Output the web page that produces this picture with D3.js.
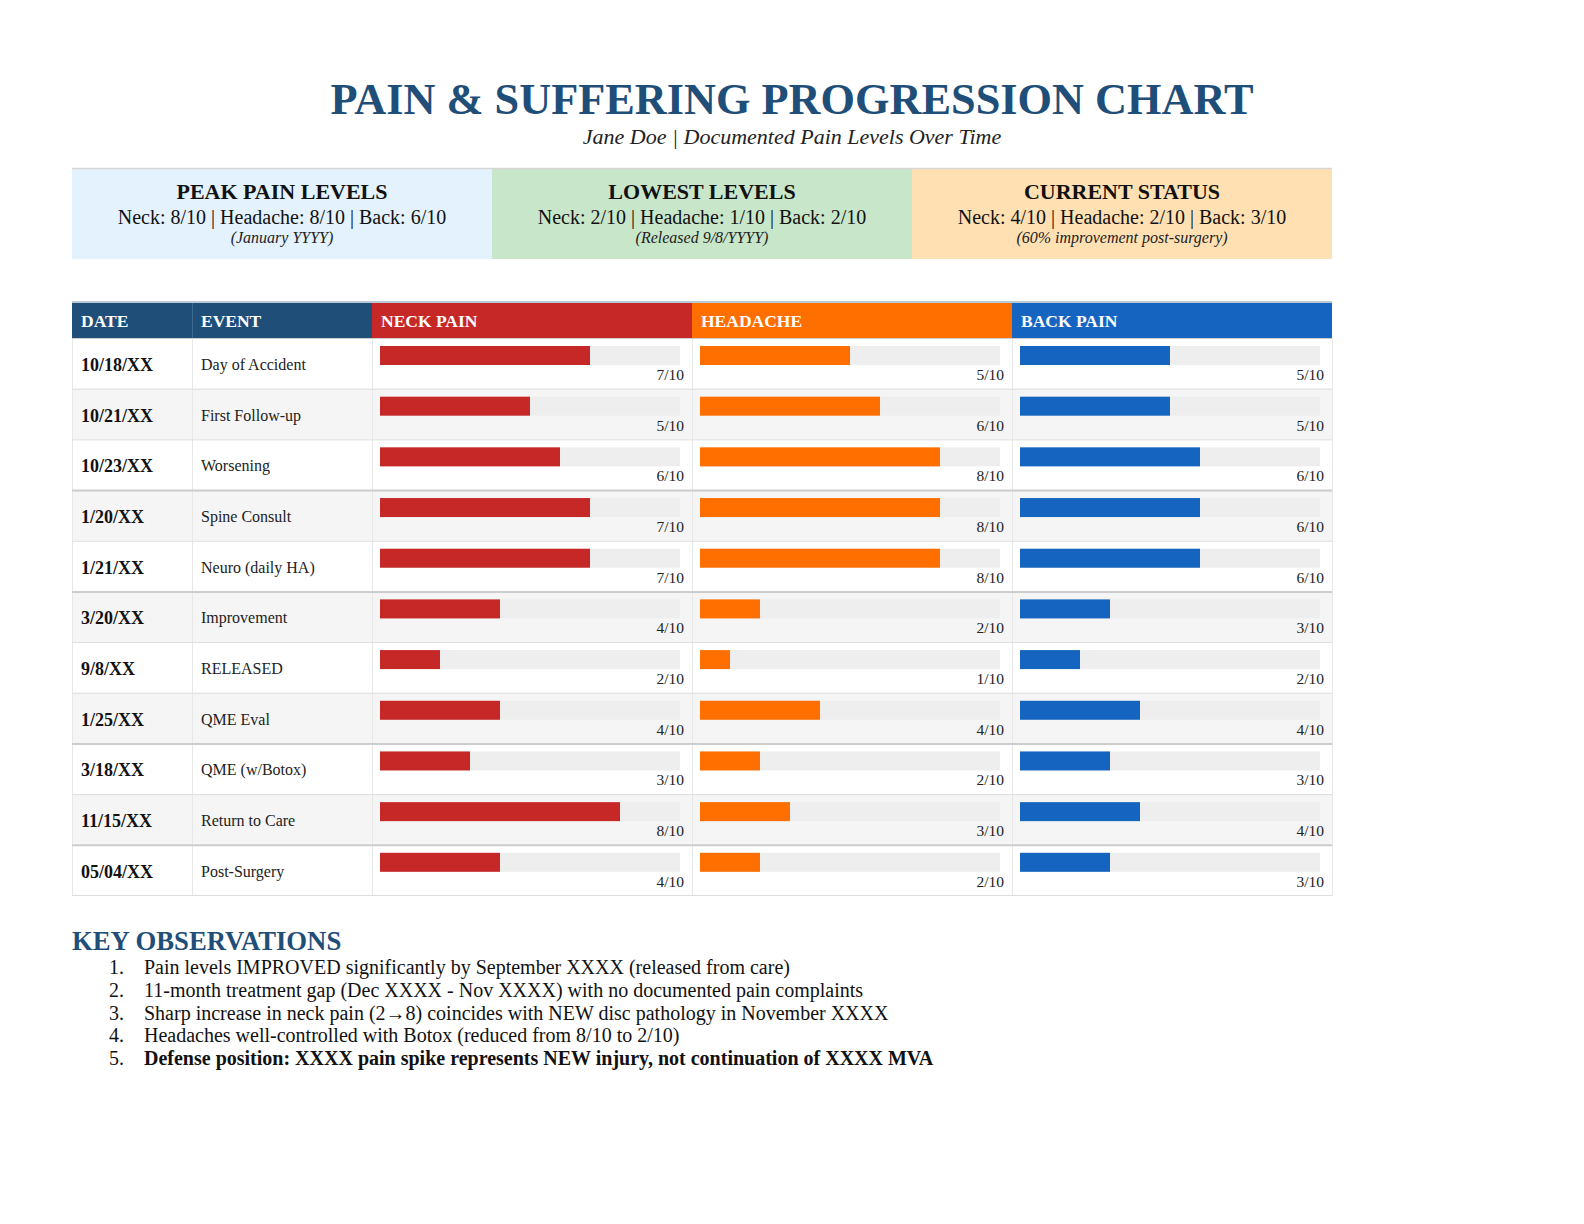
<!DOCTYPE html>
<html><head><meta charset="utf-8">
<script src="https://cdn.jsdelivr.net/npm/d3@7"></script>
<style>
html,body{margin:0;padding:0;background:#fff;}
svg{display:block;font-family:"Liberation Serif","Times New Roman",serif;}
</style></head>
<body>
<svg id="chart" width="1584" height="1224"></svg>
<script>
// ---- Data ----
const dates = ["10/18/XX","10/21/XX","10/23/XX","1/20/XX","1/21/XX","3/20/XX","9/8/XX","1/25/XX","3/18/XX","11/15/XX","05/04/XX"];
const events = ["Day of Accident","First Follow-up","Worsening","Spine Consult","Neuro (daily HA)","Improvement","RELEASED","QME Eval","QME (w/Botox)","Return to Care","Post-Surgery"];
const neckPain = [7,5,6,7,7,4,2,4,3,8,4];
const headache = [5,6,8,8,8,2,1,4,2,3,2];
const backPain = [5,5,6,6,6,3,2,4,3,4,3];
const columnHeaders = ["DATE","EVENT","NECK PAIN","HEADACHE","BACK PAIN"];
const maxScore = 10;
const summaryTitles = ["PEAK PAIN LEVELS","LOWEST LEVELS","CURRENT STATUS"];
const summaryLines = ["Neck: 8/10 | Headache: 8/10 | Back: 6/10","Neck: 2/10 | Headache: 1/10 | Back: 2/10","Neck: 4/10 | Headache: 2/10 | Back: 3/10"];
const summaryNotes = ["(January YYYY)","(Released 9/8/YYYY)","(60% improvement post-surgery)"];
const observations = [
  "Pain levels IMPROVED significantly by September XXXX (released from care)",
  "11-month treatment gap (Dec XXXX - Nov XXXX) with no documented pain complaints",
  "Sharp increase in neck pain (2\u21928) coincides with NEW disc pathology in November XXXX",
  "Headaches well-controlled with Botox (reduced from 8/10 to 2/10)",
  "Defense position: XXXX pain spike represents NEW injury, not continuation of XXXX MVA"
];

// ---- Layout ----
const svg = d3.select("#chart");
const navy = "#1F4E79";
const seriesColors = ["#C62828","#FF6F00","#1565C0"];
const headerColors = [navy, navy, ...seriesColors];
const boxColors = ["#E3F2FD","#C8E6C9","#FFE0B2"];
const tableLeft = 72, tableRight = 1332;
const colEdges = [72,192,372,692,1012,1332];

// Title
svg.append("text").attr("x",792).attr("y",114).attr("text-anchor","middle")
  .attr("font-size",44.3).attr("font-weight","bold").attr("fill",navy)
  .text("PAIN & SUFFERING PROGRESSION CHART");
svg.append("text").attr("x",792).attr("y",143.5).attr("text-anchor","middle")
  .attr("font-size",22).attr("font-style","italic").attr("fill","#222")
  .text("Jane Doe | Documented Pain Levels Over Time");

// Summary boxes
const boxX = d3.scaleBand().domain(d3.range(3)).range([tableLeft, tableRight]);
const boxTop = 168, boxH = 91;
const boxes = svg.append("g").selectAll("g").data(d3.range(3)).join("g")
  .attr("transform", i => `translate(${boxX(i)},${boxTop})`);
boxes.append("rect").attr("width",boxX.bandwidth()).attr("height",boxH).attr("fill",i=>boxColors[i]);
boxes.append("text").attr("x",boxX.bandwidth()/2).attr("y",31).attr("text-anchor","middle")
  .attr("font-size",22).attr("font-weight","bold").attr("fill","#111").text(i=>summaryTitles[i]);
boxes.append("text").attr("x",boxX.bandwidth()/2).attr("y",56).attr("text-anchor","middle")
  .attr("font-size",20).attr("fill","#111").text(i=>summaryLines[i]);
boxes.append("text").attr("x",boxX.bandwidth()/2).attr("y",74.5).attr("text-anchor","middle")
  .attr("font-size",16).attr("font-style","italic").attr("fill","#222").text(i=>summaryNotes[i]);
svg.append("line").attr("x1",tableLeft).attr("x2",tableRight).attr("y1",boxTop+0.5).attr("y2",boxTop+0.5)
  .attr("stroke","#d6d6d6").attr("stroke-width",1.5);

// Table header
const headTop = 302, headBottom = 338;
const hdr = svg.append("g");
hdr.selectAll("rect").data(columnHeaders).join("rect")
  .attr("x",(d,i)=>colEdges[i]).attr("y",headTop)
  .attr("width",(d,i)=>colEdges[i+1]-colEdges[i]).attr("height",headBottom-headTop)
  .attr("fill",(d,i)=>headerColors[i]);
hdr.append("line").attr("x1",192.5).attr("x2",192.5).attr("y1",headTop).attr("y2",headBottom)
  .attr("stroke","#3f6a90").attr("stroke-width",1);
hdr.selectAll("text").data(columnHeaders).join("text")
  .attr("x",(d,i)=>colEdges[i]+9).attr("y",headTop+25)
  .attr("font-size",17.5).attr("font-weight","bold").attr("fill","#fff").text(d=>d);
svg.append("line").attr("x1",tableLeft).attr("x2",tableRight).attr("y1",headTop).attr("y2",headTop)
  .attr("stroke","#b9c9d6").attr("stroke-width",2);

// Rows
const y = d3.scaleBand().domain(d3.range(dates.length)).range([headBottom, 895.5]).paddingInner(0);
const rowH = y.bandwidth();
const barW = d3.scaleLinear().domain([0,maxScore]).range([0,300]);
const series = [neckPain, headache, backPain];

const rows = svg.append("g").selectAll("g").data(d3.range(dates.length)).join("g")
  .attr("transform", i => `translate(0,${y(i)})`);
rows.append("rect").attr("x",tableLeft).attr("width",tableRight-tableLeft).attr("height",rowH)
  .attr("fill", i => i % 2 ? "#F5F5F5" : "#FFFFFF");
colEdges.forEach(x=>{
  rows.append("line").attr("x1",x+0.5).attr("x2",x+0.5).attr("y1",0).attr("y2",rowH)
    .attr("stroke","#e8e8e8");
});
rows.append("text").attr("x",colEdges[0]+9).attr("y",33).attr("font-size",18).attr("font-weight","bold")
  .attr("fill","#111").text(i=>dates[i]);
rows.append("text").attr("x",colEdges[1]+9).attr("y",32).attr("font-size",16)
  .attr("fill","#222").text(i=>events[i]);
series.forEach((vals, s) => {
  const cx = colEdges[2+s];
  rows.append("rect").attr("x",cx+8).attr("y",8).attr("width",barW(maxScore)).attr("height",19).attr("fill","#EEEEEE");
  rows.append("rect").attr("x",cx+8).attr("y",8).attr("width",i=>barW(vals[i])).attr("height",19).attr("fill",seriesColors[s]);
  rows.append("text").attr("x",colEdges[3+s]-8).attr("y",42).attr("text-anchor","end")
    .attr("font-size",15.5).attr("fill","#222").text(i=>`${vals[i]}/${maxScore}`);
});
const thick = new Set([3,5,8,10]);
svg.append("g").selectAll("line").data(d3.range(dates.length+1)).join("line")
  .attr("x1",tableLeft).attr("x2",tableRight)
  .attr("y1",i=> i===dates.length ? 895.5 : y(i)+0.5).attr("y2",i=> i===dates.length ? 895.5 : y(i)+0.5)
  .attr("stroke", i => thick.has(i) || i===0 ? "#cccccc" : "#dddddd")
  .attr("stroke-width", i => thick.has(i) ? 2 : 1);

// Key observations
svg.append("text").attr("x",72).attr("y",949.5).attr("font-size",26.7).attr("font-weight","bold")
  .attr("fill",navy).text("KEY OBSERVATIONS");
const obs = svg.append("g").selectAll("g").data(observations).join("g")
  .attr("transform",(d,i)=>`translate(0,${974 + i*22.8})`);
obs.append("text").attr("x",109).attr("font-size",20).attr("fill","#111").text((d,i)=>`${i+1}.`);
obs.append("text").attr("x",144).attr("font-size",20).attr("fill","#111")
  .attr("font-weight",(d,i)=> i===observations.length-1 ? "bold" : "normal").text(d=>d);
</script>
</body></html>
